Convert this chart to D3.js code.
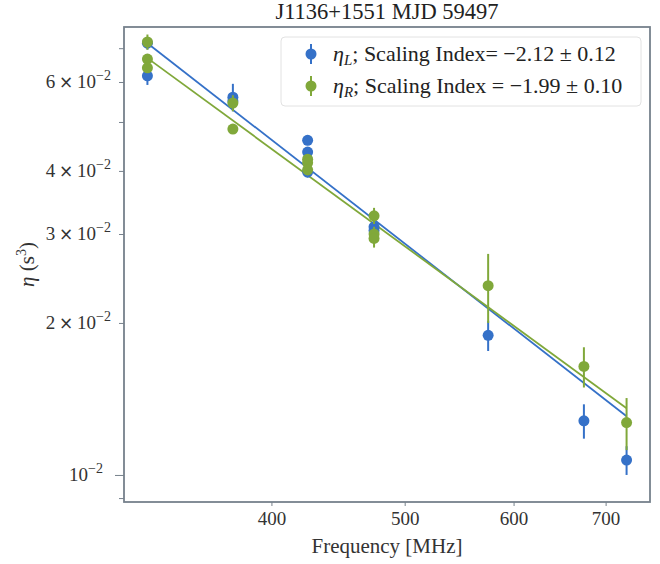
<!DOCTYPE html>
<html>
<head>
<meta charset="utf-8">
<script src="https://cdn.jsdelivr.net/npm/d3@7"></script>
<style>
  html, body { margin: 0; padding: 0; background: #fff; }
  svg { display: block; font-family: "Liberation Serif", "DejaVu Serif", serif; }
</style>
</head>
<body>
<svg id="chart" width="660" height="564"></svg>
<script>
// Curvature measurements per frequency (MHz), eta in s^3 with 1-sigma errors
const freqL = [325, 325, 375, 375, 425, 425, 425, 475, 475, 575, 675, 725];
const etaL  = [0.0716, 0.0617, 0.0560, 0.0550, 0.0460, 0.0436, 0.0398, 0.0310, 0.0305, 0.0189, 0.0128, 0.0107];
const errL  = [0.0020, 0.0025, 0.0035, 0.0020, 0.0010, 0.0010, 0.0010, 0.0010, 0.0010, 0.0013, 0.0010, 0.0007];

const freqR = [325, 325, 325, 375, 375, 425, 425, 425, 475, 475, 475, 575, 675, 725];
const etaR  = [0.0720, 0.0666, 0.0640, 0.0545, 0.0484, 0.0422, 0.0415, 0.0402, 0.0326, 0.0300, 0.0294, 0.0237, 0.0164, 0.0127];
const errR  = [0.0025, 0.0015, 0.0015, 0.0020, 0.0010, 0.0010, 0.0010, 0.0010, 0.0012, 0.0010, 0.0012, 0.0037, 0.0015, 0.0015];

// Power-law fits: eta = eta325 * (f / 325)^index
const fitL = { eta325: 0.0716, index: -2.12, err: 0.12 };
const fitR = { eta325: 0.0669, index: -1.99, err: 0.10 };

const yLabeled = [0.01, 0.02, 0.03, 0.04, 0.06];
const yUnlabeled = [0.009, 0.05, 0.07];
const xTicks = [400, 500, 600, 700];

const titleText = "J1136+1551 MJD 59497";
const xLabelText = "Frequency [MHz]";

const colL = "#3571c8";
const colR = "#80a83a";
const frameCol = "#76818c";

const svg = d3.select("#chart");
const m = { left: 124, right: 650, top: 27, bottom: 502 };

const x = d3.scaleLog().domain([312.5, 754]).range([m.left, m.right]);
const y = d3.scaleLog().domain([0.00884, 0.0771]).range([m.bottom, m.top]);

// axes
const axB = svg.append("g").attr("transform", `translate(0,${m.bottom})`)
  .call(d3.axisBottom(x).tickValues(xTicks).tickFormat(d3.format("d")).tickSize(4).tickPadding(6));
const axL = svg.append("g").attr("transform", `translate(${m.left},0)`)
  .call(d3.axisLeft(y).tickValues(yLabeled.concat(yUnlabeled))
    .tickFormat(() => "").tickSize(5));
[axB, axL].forEach(a => {
  a.select(".domain").remove();
  a.selectAll(".tick line").attr("stroke", frameCol).attr("stroke-width", 1);
});
axB.selectAll(".tick text").attr("font-size", 19).attr("fill", "#333")
  .attr("font-family", "Liberation Serif");
axL.selectAll(".tick").filter(d => d === 0.01).select("line").attr("x2", -9);

// y tick labels in scientific form
yLabeled.forEach(v => {
  const exp = Math.floor(Math.log10(v) + 1e-9);
  const mant = Math.round(v / Math.pow(10, exp));
  const t = svg.append("text")
    .attr("x", v === 0.01 ? 103 : 111)
    .attr("y", y(v) + 6)
    .attr("text-anchor", "end")
    .attr("font-size", 19).attr("fill", "#333");
  if (mant !== 1) {
    t.append("tspan").text(mant + "\u2009");
    t.append("tspan").attr("font-family", "DejaVu Sans").attr("font-size", 17).text("\u00d7");
    t.append("tspan").text("\u2009");
  }
  t.append("tspan").text("10");
  t.append("tspan").attr("dy", -8).attr("font-size", 14).text("\u2212" + Math.abs(exp));
});

// fit lines
const fitLine = fit => d3.line()
  .x(d => x(d)).y(d => y(fit.eta325 * Math.pow(d / 325, fit.index)));
const fitRange = [325, 725];
svg.append("path").datum(fitRange).attr("d", fitLine(fitL))
  .attr("fill", "none").attr("stroke", colL).attr("stroke-width", 1.8);
svg.append("path").datum(fitRange).attr("d", fitLine(fitR))
  .attr("fill", "none").attr("stroke", colR).attr("stroke-width", 1.8);

// error-bar points
function drawSeries(freq, eta, err, col) {
  const g = svg.append("g");
  const rows = freq.map((f, i) => ({ f, v: eta[i], e: err[i] }));
  g.selectAll("line").data(rows).enter().append("line")
    .attr("x1", d => x(d.f)).attr("x2", d => x(d.f))
    .attr("y1", d => y(d.v + d.e)).attr("y2", d => y(d.v - d.e))
    .attr("stroke", col).attr("stroke-width", 2);
  g.selectAll("circle").data(rows).enter().append("circle")
    .attr("cx", d => x(d.f)).attr("cy", d => y(d.v)).attr("r", 5.5)
    .attr("fill", col);
}
drawSeries(freqL, etaL, errL, colL);
drawSeries(freqR, etaR, errR, colR);

// frame
svg.append("rect").attr("x", m.left).attr("y", m.top)
  .attr("width", m.right - m.left).attr("height", m.bottom - m.top)
  .attr("fill", "none").attr("stroke", frameCol).attr("stroke-width", 1.8);

// legend
const lg = svg.append("g");
lg.append("rect").attr("x", 281).attr("y", 37).attr("width", 360).attr("height", 69)
  .attr("rx", 4).attr("fill", "#fff").attr("fill-opacity", 0.8)
  .attr("stroke", "#e2e2e2").attr("stroke-width", 1);
const entries = [
  { col: colL, sub: "L", mid: "; Scaling Index= ", fit: fitL },
  { col: colR, sub: "R", mid: "; Scaling Index = ", fit: fitR }
];
entries.forEach((e, i) => {
  const cy = 54 + i * 32;
  lg.append("line").attr("x1", 311).attr("x2", 311).attr("y1", cy - 10).attr("y2", cy + 10)
    .attr("stroke", e.col).attr("stroke-width", 2);
  lg.append("circle").attr("cx", 311).attr("cy", cy).attr("r", 5.5).attr("fill", e.col);
  const t = lg.append("text").attr("x", 333).attr("y", cy + 7).attr("font-size", 22).attr("fill", "#222");
  t.append("tspan").attr("font-style", "italic").text("\u03b7");
  t.append("tspan").attr("font-style", "italic").attr("font-size", 15).attr("dy", 4).text(e.sub);
  t.append("tspan").attr("dy", -4).text(e.mid + "\u2212" + Math.abs(e.fit.index).toFixed(2) + " \u00b1 " + e.fit.err.toFixed(2));
});

// title and axis labels
svg.append("text").attr("x", (m.left + m.right) / 2).attr("y", 19)
  .attr("text-anchor", "middle").attr("font-size", 22.5).attr("fill", "#222").text(titleText);
svg.append("text").attr("x", (m.left + m.right) / 2).attr("y", 553)
  .attr("text-anchor", "middle").attr("font-size", 21).attr("fill", "#333").text(xLabelText);
const yl = svg.append("text").attr("transform", `translate(34,${(m.top + m.bottom) / 2}) rotate(-90)`)
  .attr("text-anchor", "middle").attr("font-size", 21).attr("fill", "#333");
yl.append("tspan").attr("font-style", "italic").text("\u03b7");
yl.append("tspan").text(" (s");
yl.append("tspan").attr("dy", -8).attr("font-size", 14).text("3");
yl.append("tspan").attr("dy", 8).text(")");
</script>
</body>
</html>
